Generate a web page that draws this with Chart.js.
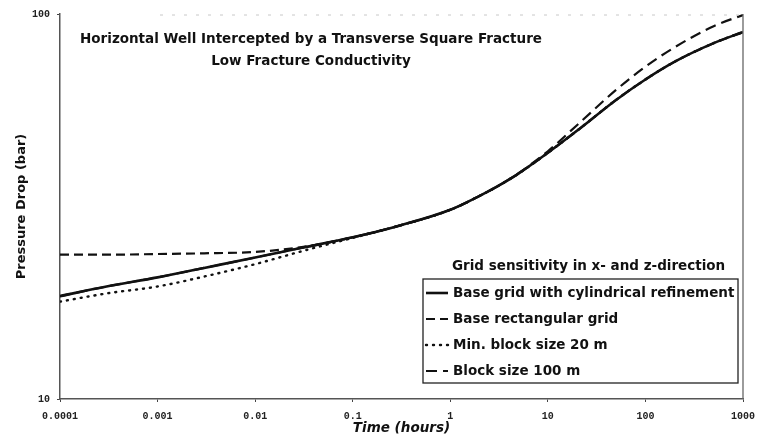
<!DOCTYPE html>
<html>
<head>
<meta charset="utf-8">
<script src="https://cdn.jsdelivr.net/npm/chart.js@4.4.1/dist/chart.umd.min.js"></script>
<style>
  html, body { margin: 0; padding: 0; background: #fff; }
  canvas { display: block; }
</style>
</head>
<body>
<canvas id="chart" width="759" height="444"></canvas>
<script>
// Time in hours
const times = [0.0001, 0.0003, 0.001, 0.003, 0.01, 0.03, 0.1, 0.3, 1, 2, 3, 5, 10, 20, 50, 100, 200, 500, 1000];

// Pressure drop (bar) for each grid variant
const baseCylindrical = [18.5, 19.6, 20.7, 21.9, 23.3, 24.7, 26.3, 28.2, 31.0, 33.7, 35.6, 38.5, 43.6, 49.8, 59.8, 67.6, 75.2, 84.0, 89.8];
const baseRectangular = [23.7, 23.7, 23.8, 23.9, 24.1, 24.8, 26.3, 28.2, 31.0, 33.7, 35.6, 38.5, 43.6, 49.8, 59.8, 67.6, 75.2, 84.0, 89.8];
const minBlock20 =      [17.9, 18.8, 19.6, 20.8, 22.4, 24.2, 26.2, 28.2, 31.0, 33.7, 35.6, 38.5, 43.6, 49.8, 59.8, 67.6, 75.2, 84.0, 89.8];
const block100 =        [18.5, 19.6, 20.7, 21.9, 23.3, 24.7, 26.3, 28.2, 31.0, 33.7, 35.6, 38.6, 44.0, 51.5, 63.5, 73.0, 82.0, 93.0, 99.4];

const seriesLabels = [
  'Base grid with cylindrical refinement',
  'Base rectangular grid',
  'Min. block size 20 m',
  'Block size 100 m'
];

const xTickValues = [0.0001, 0.001, 0.01, 0.1, 1, 10, 100, 1000];
const xTickLabels = ['0.0001', '0.001', '0.01', '0.1', '1', '10', '100', '1000'];
const yTickValues = [10, 100];
const yTickLabels = ['10', '100'];

const titleLines = ['Horizontal Well Intercepted by a Transverse Square Fracture', 'Low Fracture Conductivity'];
const legendTitle = 'Grid sensitivity in x- and z-direction';

const pts = vals => times.map((t, i) => ({ x: t, y: vals[i] }));

const styles = [
  { borderWidth: 2.6, borderDash: [], borderCapStyle: 'butt' },
  { borderWidth: 2.2, borderDash: [9, 5], borderCapStyle: 'butt' },
  { borderWidth: 2.4, borderDash: [1, 6], borderCapStyle: 'round' },
  { borderWidth: 2.2, borderDash: [11, 6], borderCapStyle: 'butt' }
];
const seriesData = [baseCylindrical, baseRectangular, minBlock20, block100];

const datasets = seriesData.map((vals, i) => Object.assign({
  label: seriesLabels[i],
  data: pts(vals),
  borderColor: '#111',
  backgroundColor: '#111',
  pointRadius: 0,
  fill: false,
  cubicInterpolationMode: 'monotone'
}, styles[i]));

const FONT_TEXT = '"DejaVu Sans", Verdana, sans-serif';
const FONT_TICK = '"Liberation Mono", "DejaVu Sans Mono", monospace';

// Frame pieces, heading and the boxed legend drawn onto the chart area
const decorations = {
  id: 'decorations',
  afterDatasetsDraw(chart) {
    const { ctx, chartArea: a } = chart;
    ctx.save();

    // right frame line
    ctx.strokeStyle = '#666';
    ctx.lineWidth = 1.3;
    ctx.beginPath();
    ctx.moveTo(a.right, a.top);
    ctx.lineTo(a.right, a.bottom);
    ctx.stroke();

    // faint top frame line
    ctx.strokeStyle = '#c8c8c8';
    ctx.lineWidth = 1;
    ctx.setLineDash([3, 9]);
    ctx.beginPath();
    ctx.moveTo(a.left + 100, a.top + 1);
    ctx.lineTo(a.right, a.top + 1);
    ctx.stroke();
    ctx.setLineDash([]);

    // heading
    ctx.fillStyle = '#111';
    ctx.font = 'bold 13.5px ' + FONT_TEXT;
    ctx.textAlign = 'center';
    ctx.textBaseline = 'middle';
    const cx = 311;
    ctx.fillText(titleLines[0], cx, a.top + 25);
    ctx.fillText(titleLines[1], cx, a.top + 47);

    // legend
    const bx = 423, by = 279, bw = 315, bh = 104;
    ctx.font = 'bold 13.5px ' + FONT_TEXT;
    ctx.textAlign = 'left';
    ctx.fillText(legendTitle, 452, 266);

    ctx.strokeStyle = '#222';
    ctx.lineWidth = 1.3;
    ctx.strokeRect(bx, by, bw, bh);

    const rowY = [293, 319, 345, 371];
    chart.data.datasets.forEach((ds, i) => {
      const y = rowY[i];
      ctx.strokeStyle = ds.borderColor;
      ctx.lineWidth = ds.borderWidth;
      ctx.lineCap = ds.borderCapStyle;
      ctx.setLineDash(ds.borderDash);
      ctx.beginPath();
      ctx.moveTo(426, y);
      ctx.lineTo(448, y);
      ctx.stroke();
      ctx.setLineDash([]);
      ctx.lineCap = 'butt';
      ctx.fillStyle = '#111';
      ctx.fillText(ds.label, 453, y);
    });

    ctx.restore();
  }
};

new Chart(document.getElementById('chart'), {
  type: 'line',
  data: { datasets },
  plugins: [decorations],
  options: {
    responsive: false,
    animation: false,
    devicePixelRatio: 1,
    layout: { padding: { top: 14, right: 16, left: 0, bottom: 0 } },
    plugins: {
      legend: { display: false },
      tooltip: { enabled: false },
      title: { display: false }
    },
    scales: {
      x: {
        type: 'logarithmic',
        min: 0.0001,
        max: 1000,
        afterBuildTicks: s => { s.ticks = xTickValues.map(v => ({ value: v })); },
        afterFit: s => { s.height = 45; s.paddingLeft = 0; s.paddingRight = 0; },
        ticks: {
          autoSkip: false,
          maxRotation: 0,
          padding: 8,
          color: '#222',
          font: { family: FONT_TICK, size: 10, weight: 'bold' },
          callback: (v, i) => xTickLabels[i]
        },
        grid: { drawOnChartArea: false, drawTicks: true, tickLength: 3, color: '#444' },
        border: { color: '#555', width: 1.5 },
        title: {
          display: true,
          text: 'Time (hours)',
          color: '#111',
          padding: { top: 0, bottom: 7 },
          font: { family: FONT_TEXT, size: 13.5, weight: 'bold', style: 'italic' }
        }
      },
      y: {
        type: 'logarithmic',
        min: 10,
        max: 100,
        afterBuildTicks: s => { s.ticks = yTickValues.map(v => ({ value: v })); },
        afterFit: s => { s.width = 60; s.paddingTop = 0; s.paddingBottom = 0; },
        ticks: {
          autoSkip: false,
          padding: 7,
          color: '#222',
          font: { family: FONT_TICK, size: 10, weight: 'bold' },
          callback: (v, i) => yTickLabels[i]
        },
        grid: { drawOnChartArea: false, drawTicks: true, tickLength: 3, color: '#444' },
        border: { color: '#555', width: 1.5 },
        title: {
          display: true,
          text: 'Pressure Drop (bar)',
          color: '#111',
          padding: { top: 14, bottom: 0 },
          font: { family: FONT_TEXT, size: 13, weight: 'bold' }
        }
      }
    }
  }
});
</script>
</body>
</html>
